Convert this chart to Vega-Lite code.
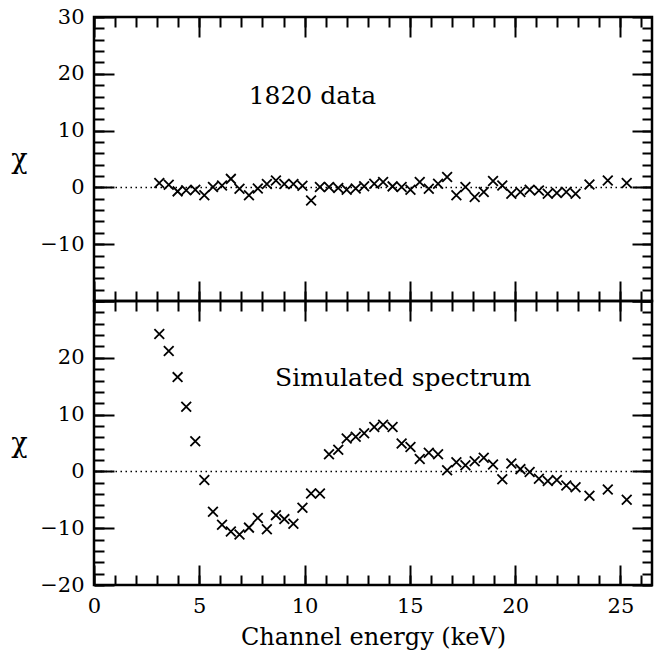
{
  "$schema": "https://vega.github.io/schema/vega-lite/v6.json",
  "background": "white",
  "padding": {"left": 9, "top": 4, "right": 5, "bottom": 5},
  "spacing": 0,
  "bounds": "flush",
  "config": {
    "view": {"stroke": "black", "strokeWidth": 2.5},
    "axis": {
      "grid": false, "domain": false, "tickColor": "black", "tickWidth": 2, "minExtent": 0,
      "labelFont": "DejaVu Serif", "labelFontSize": 21, "labelColor": "black",
      "titleFont": "DejaVu Serif", "titleFontWeight": "normal", "titleColor": "black", "titleFontSize": 24,
      "labelFlush": false, "labelOverlap": false, "labelBound": false
    }
  },
  "datasets": {
    "top": [
      {"E": 3.10, "chi": 0.76}, {"E": 3.55, "chi": 0.47}, {"E": 3.97, "chi": -0.7}, {"E": 4.38, "chi": -0.5},
      {"E": 4.81, "chi": -0.4}, {"E": 5.24, "chi": -1.4}, {"E": 5.65, "chi": 0.06}, {"E": 6.08, "chi": 0.35},
      {"E": 6.50, "chi": 1.5}, {"E": 6.91, "chi": -0.23}, {"E": 7.36, "chi": -1.4}, {"E": 7.78, "chi": -0.2},
      {"E": 8.21, "chi": 0.6}, {"E": 8.64, "chi": 1.2}, {"E": 9.04, "chi": 0.6}, {"E": 9.47, "chi": 0.6},
      {"E": 9.90, "chi": 0.3}, {"E": 10.31, "chi": -2.3}, {"E": 10.73, "chi": 0.06}, {"E": 11.16, "chi": 0.06},
      {"E": 11.60, "chi": -0.1}, {"E": 12.00, "chi": -0.4}, {"E": 12.43, "chi": -0.2}, {"E": 12.83, "chi": 0.2},
      {"E": 13.31, "chi": 0.64}, {"E": 13.73, "chi": 0.94}, {"E": 14.18, "chi": 0.18}, {"E": 14.61, "chi": 0.06},
      {"E": 15.03, "chi": -0.41}, {"E": 15.47, "chi": 0.94}, {"E": 15.90, "chi": -0.23}, {"E": 16.34, "chi": 0.64},
      {"E": 16.77, "chi": 1.82}, {"E": 17.21, "chi": -1.4}, {"E": 17.64, "chi": 0.06}, {"E": 18.08, "chi": -1.7},
      {"E": 18.51, "chi": -0.82}, {"E": 18.95, "chi": 1.11}, {"E": 19.39, "chi": 0.35}, {"E": 19.82, "chi": -1.11},
      {"E": 20.25, "chi": -0.82}, {"E": 20.69, "chi": -0.41}, {"E": 21.13, "chi": -0.53}, {"E": 21.55, "chi": -1.11},
      {"E": 21.98, "chi": -0.99}, {"E": 22.43, "chi": -0.82}, {"E": 22.87, "chi": -1.11}, {"E": 23.53, "chi": 0.53},
      {"E": 24.40, "chi": 1.23}, {"E": 25.30, "chi": 0.76}
    ],
    "bottom": [
      {"E": 3.10, "chi": 24.2}, {"E": 3.55, "chi": 21.2}, {"E": 3.97, "chi": 16.6}, {"E": 4.38, "chi": 11.4},
      {"E": 4.81, "chi": 5.3}, {"E": 5.24, "chi": -1.5}, {"E": 5.65, "chi": -7.1}, {"E": 6.08, "chi": -9.4},
      {"E": 6.50, "chi": -10.6}, {"E": 6.91, "chi": -11.1}, {"E": 7.36, "chi": -9.9}, {"E": 7.78, "chi": -8.2},
      {"E": 8.21, "chi": -10.2}, {"E": 8.64, "chi": -7.7}, {"E": 9.04, "chi": -8.4}, {"E": 9.47, "chi": -9.2},
      {"E": 9.90, "chi": -6.4}, {"E": 10.31, "chi": -3.9}, {"E": 10.73, "chi": -3.9}, {"E": 11.16, "chi": 3.0},
      {"E": 11.60, "chi": 3.8}, {"E": 12.00, "chi": 5.8}, {"E": 12.43, "chi": 6.1}, {"E": 12.83, "chi": 6.7},
      {"E": 13.31, "chi": 7.8}, {"E": 13.73, "chi": 8.2}, {"E": 14.18, "chi": 7.8}, {"E": 14.61, "chi": 4.9},
      {"E": 15.03, "chi": 4.3}, {"E": 15.47, "chi": 2.2}, {"E": 15.90, "chi": 3.3}, {"E": 16.34, "chi": 3.0},
      {"E": 16.77, "chi": 0.2}, {"E": 17.21, "chi": 1.6}, {"E": 17.64, "chi": 1.1}, {"E": 18.08, "chi": 1.8},
      {"E": 18.51, "chi": 2.4}, {"E": 18.95, "chi": 1.2}, {"E": 19.39, "chi": -1.4}, {"E": 19.82, "chi": 1.4},
      {"E": 20.25, "chi": 0.4}, {"E": 20.69, "chi": -0.1}, {"E": 21.13, "chi": -1.3}, {"E": 21.55, "chi": -1.7},
      {"E": 21.98, "chi": -1.5}, {"E": 22.43, "chi": -2.5}, {"E": 22.87, "chi": -2.8}, {"E": 23.53, "chi": -4.3},
      {"E": 24.40, "chi": -3.2}, {"E": 25.30, "chi": -5.0}
    ],
    "zero": [{"chi": 0}],
    "labTop": [{"E": 10.37, "chi": 16.1, "text": "1820 data"}],
    "labBottom": [{"E": 14.68, "chi": 16.5, "text": "Simulated spectrum"}]
  },
  "vconcat": [
    {
      "width": 558, "height": 284,
      "resolve": {"axis": {"x": "independent", "y": "independent"}},
      "layer": [
        {
          "data": {"name": "top"},
          "mark": {"type": "point", "shape": "M-1,-1L1,1M-1,1L1,-1", "filled": false, "stroke": "black", "strokeWidth": 1.8, "size": 95, "opacity": 1},
          "encoding": {
            "x": {"field": "E", "type": "quantitative", "scale": {"domain": [0, 26.5], "nice": false, "zero": false},
                  "axis": {"orient": "bottom", "values": [0, 5, 10, 15, 20, 25], "tickSize": -20, "labels": false, "title": null}},
            "y": {"field": "chi", "type": "quantitative", "scale": {"domain": [-20, 30], "nice": false, "zero": false},
                  "axis": {"orient": "left", "values": [-20, -10, 0, 10, 20, 30], "tickSize": -20, "labelPadding": 30,
                           "labelExpr": "datum.value == -20 ? '' : datum.label",
                           "title": "χ", "titleFontSize": 27, "titleAngle": 0, "titleAlign": "center", "titleBaseline": "middle", "titleX": -75, "titleY": 142}}
          }
        },
        {
          "data": {"name": "top"},
          "mark": {"type": "point", "opacity": 0},
          "encoding": {
            "x": {"field": "E", "type": "quantitative", "scale": {"domain": [0, 26.5], "nice": false, "zero": false},
                  "axis": {"orient": "bottom", "values": [0,1,2,3,4,5,6,7,8,9,10,11,12,13,14,15,16,17,18,19,20,21,22,23,24,25,26], "tickSize": -10, "labels": false, "title": null}},
            "y": {"field": "chi", "type": "quantitative", "scale": {"domain": [-20, 30], "nice": false, "zero": false},
                  "axis": {"orient": "left", "values": [-20,-18,-16,-14,-12,-10,-8,-6,-4,-2,0,2,4,6,8,10,12,14,16,18,20,22,24,26,28,30], "tickSize": -10, "labels": false, "title": null}}
          }
        },
        {
          "data": {"name": "top"},
          "mark": {"type": "point", "opacity": 0},
          "encoding": {
            "x": {"field": "E", "type": "quantitative", "scale": {"domain": [0, 26.5], "nice": false, "zero": false},
                  "axis": {"orient": "top", "values": [0, 5, 10, 15, 20, 25], "tickSize": -20, "labels": false, "title": null}},
            "y": {"field": "chi", "type": "quantitative", "scale": {"domain": [-20, 30], "nice": false, "zero": false},
                  "axis": {"orient": "right", "values": [-20, -10, 0, 10, 20, 30], "tickSize": -20, "labels": false, "title": null}}
          }
        },
        {
          "data": {"name": "top"},
          "mark": {"type": "point", "opacity": 0},
          "encoding": {
            "x": {"field": "E", "type": "quantitative", "scale": {"domain": [0, 26.5], "nice": false, "zero": false},
                  "axis": {"orient": "top", "values": [0,1,2,3,4,5,6,7,8,9,10,11,12,13,14,15,16,17,18,19,20,21,22,23,24,25,26], "tickSize": -10, "labels": false, "title": null}},
            "y": {"field": "chi", "type": "quantitative", "scale": {"domain": [-20, 30], "nice": false, "zero": false},
                  "axis": {"orient": "right", "values": [-20,-18,-16,-14,-12,-10,-8,-6,-4,-2,0,2,4,6,8,10,12,14,16,18,20,22,24,26,28,30], "tickSize": -10, "labels": false, "title": null}}
          }
        },
        {
          "data": {"name": "zero"},
          "mark": {"type": "rule", "stroke": "black", "strokeWidth": 1.5, "strokeDash": [1.5, 3.5]},
          "encoding": {"y": {"field": "chi", "type": "quantitative", "axis": null}}
        },
        {
          "data": {"name": "labTop"},
          "mark": {"type": "text", "font": "DejaVu Serif", "fontSize": 25, "color": "black", "align": "center", "baseline": "middle"},
          "encoding": {
            "x": {"field": "E", "type": "quantitative", "axis": null},
            "y": {"field": "chi", "type": "quantitative", "axis": null},
            "text": {"field": "text"}
          }
        }
      ]
    },
    {
      "width": 558, "height": 284,
      "resolve": {"axis": {"x": "independent", "y": "independent"}},
      "layer": [
        {
          "data": {"name": "bottom"},
          "mark": {"type": "point", "shape": "M-1,-1L1,1M-1,1L1,-1", "filled": false, "stroke": "black", "strokeWidth": 1.8, "size": 95, "opacity": 1},
          "encoding": {
            "x": {"field": "E", "type": "quantitative", "scale": {"domain": [0, 26.5], "nice": false, "zero": false},
                  "axis": {"orient": "bottom", "values": [0, 5, 10, 15, 20, 25], "tickSize": -20, "labelPadding": 30, "title": "Channel energy (keV)", "titlePadding": 9}},
            "y": {"field": "chi", "type": "quantitative", "scale": {"domain": [-20, 30], "nice": false, "zero": false},
                  "axis": {"orient": "left", "values": [-20, -10, 0, 10, 20, 30], "tickSize": -20, "labelPadding": 30,
                           "labelExpr": "datum.value == 30 ? '' : datum.label",
                           "title": "χ", "titleFontSize": 27, "titleAngle": 0, "titleAlign": "center", "titleBaseline": "middle", "titleX": -75, "titleY": 142}}
          }
        },
        {
          "data": {"name": "bottom"},
          "mark": {"type": "point", "opacity": 0},
          "encoding": {
            "x": {"field": "E", "type": "quantitative", "scale": {"domain": [0, 26.5], "nice": false, "zero": false},
                  "axis": {"orient": "bottom", "values": [0,1,2,3,4,5,6,7,8,9,10,11,12,13,14,15,16,17,18,19,20,21,22,23,24,25,26], "tickSize": -10, "labels": false, "title": null}},
            "y": {"field": "chi", "type": "quantitative", "scale": {"domain": [-20, 30], "nice": false, "zero": false},
                  "axis": {"orient": "left", "values": [-20,-18,-16,-14,-12,-10,-8,-6,-4,-2,0,2,4,6,8,10,12,14,16,18,20,22,24,26,28,30], "tickSize": -10, "labels": false, "title": null}}
          }
        },
        {
          "data": {"name": "bottom"},
          "mark": {"type": "point", "opacity": 0},
          "encoding": {
            "x": {"field": "E", "type": "quantitative", "scale": {"domain": [0, 26.5], "nice": false, "zero": false},
                  "axis": {"orient": "top", "values": [0, 5, 10, 15, 20, 25], "tickSize": -20, "labels": false, "title": null}},
            "y": {"field": "chi", "type": "quantitative", "scale": {"domain": [-20, 30], "nice": false, "zero": false},
                  "axis": {"orient": "right", "values": [-20, -10, 0, 10, 20, 30], "tickSize": -20, "labels": false, "title": null}}
          }
        },
        {
          "data": {"name": "bottom"},
          "mark": {"type": "point", "opacity": 0},
          "encoding": {
            "x": {"field": "E", "type": "quantitative", "scale": {"domain": [0, 26.5], "nice": false, "zero": false},
                  "axis": {"orient": "top", "values": [0,1,2,3,4,5,6,7,8,9,10,11,12,13,14,15,16,17,18,19,20,21,22,23,24,25,26], "tickSize": -10, "labels": false, "title": null}},
            "y": {"field": "chi", "type": "quantitative", "scale": {"domain": [-20, 30], "nice": false, "zero": false},
                  "axis": {"orient": "right", "values": [-20,-18,-16,-14,-12,-10,-8,-6,-4,-2,0,2,4,6,8,10,12,14,16,18,20,22,24,26,28,30], "tickSize": -10, "labels": false, "title": null}}
          }
        },
        {
          "data": {"name": "zero"},
          "mark": {"type": "rule", "stroke": "black", "strokeWidth": 1.5, "strokeDash": [1.5, 3.5]},
          "encoding": {"y": {"field": "chi", "type": "quantitative", "axis": null}}
        },
        {
          "data": {"name": "labBottom"},
          "mark": {"type": "text", "font": "DejaVu Serif", "fontSize": 25, "color": "black", "align": "center", "baseline": "middle"},
          "encoding": {
            "x": {"field": "E", "type": "quantitative", "axis": null},
            "y": {"field": "chi", "type": "quantitative", "axis": null},
            "text": {"field": "text"}
          }
        }
      ]
    }
  ]
}
